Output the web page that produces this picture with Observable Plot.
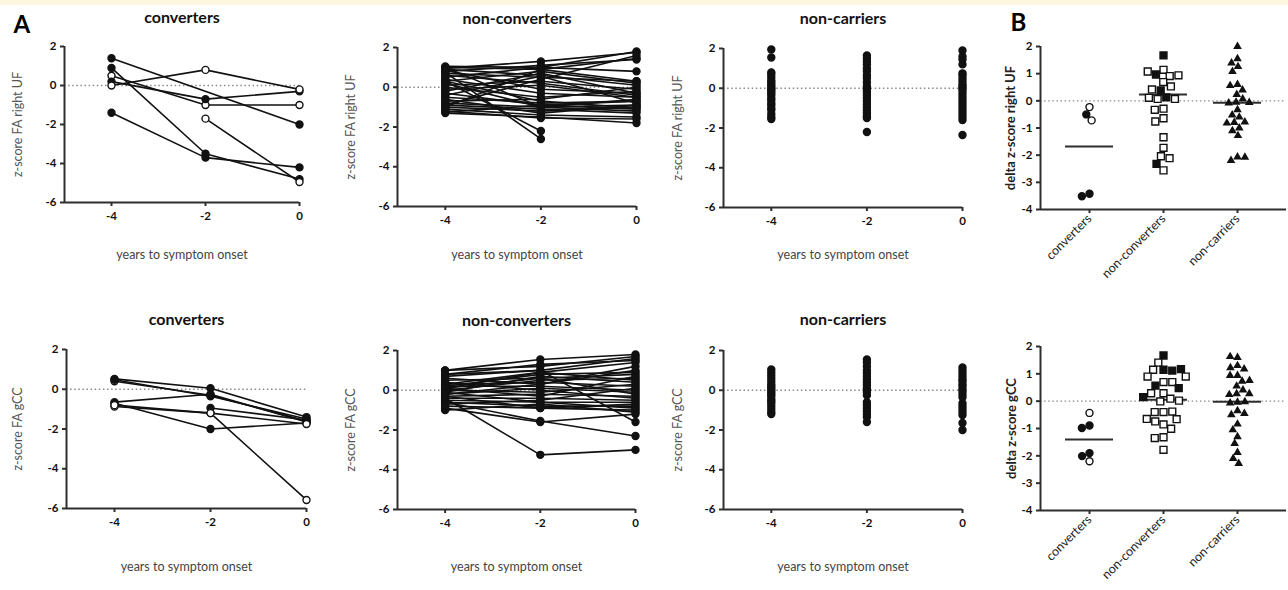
<!DOCTYPE html>
<html><head><meta charset="utf-8">
<script src="https://cdn.jsdelivr.net/npm/d3@7"></script>
<script src="https://cdn.jsdelivr.net/npm/@observablehq/plot@0.6"></script>
<style>
body{margin:0;background:#fff;}
#fig{position:relative;width:1288px;height:590px;overflow:hidden;background:#fff;}
#band{position:absolute;left:0;top:0;width:1288px;height:5px;background:#fdf7e2;}
</style></head><body><div id="fig"><div id="band"></div></div>
<script>
// ---------- data ----------
const years = [-4, -2, 0];
const yTicksA = [2, 0, -2, -4, -6];
const yTicksB = [2, 1, 0, -1, -2, -3, -4];
const groups = ["converters", "non-converters", "non-carriers"];

// z-score FA right UF, per subject at years -4, -2, 0 (null = no scan)
const convUF = [[1.4, null, -2.0], [0.9, -3.5, -4.8], [0.5, -1.0, -1.0], [0.2, -0.7, -0.3],
  [0.0, 0.8, -0.2], [-1.4, -3.7, -4.2], [null, -1.7, -4.95]];
const convUFHollow = [0, 0, 1, 0, 1, 0, 1];
const nonConvUF = [[1.05, 1.0, 1.8], [0.95, 1.3, 1.75], [1.0, 0.9, 1.45], [0.8, 1.1, 1.4], [-0.9, 0.4, 1.6],
  [0.5, 1.0, 0.8], [0.7, 0.5, 0.3], [0.3, 0.8, 0.2], [0.75, -2.6, null], [0.3, -2.2, null],
  [0.1, 0.3, -0.1], [-0.2, 0.7, -0.3], [0.4, -0.3, -0.5], [-0.5, -0.8, -0.7], [-0.8, -1.0, -0.9],
  [-1.0, -1.2, -1.0], [-1.1, -1.4, -1.5], [-1.3, -1.5, -1.8], [-1.2, -1.55, -1.6], [0.0, -0.5, -0.2],
  [-0.3, -0.9, -1.1], [0.2, -1.0, -0.6], [-0.7, -0.6, 0.0], [0.6, 0.2, -0.4], [-0.4, 0.55, -0.8],
  [1.0, -1.0, -1.2], [-0.9, -1.1, -1.3], [0.85, -0.1, -0.3], [-1.0, 0.9, 0.3], [-0.6, -1.3, -0.9],
  [0.3, -0.7, -1.05], [-0.1, 0.1, -0.5], [0.9, 0.6, 0.1], [-1.25, -0.9, -0.7]];
const nonCarUF_m4 = [1.95, 1.55, 0.8, 0.7, 0.55, 0.4, 0.3, 0.2, 0.1, 0.0, -0.05, -0.15, -0.25, -0.35, -0.5, -0.6, -0.75, -0.85, -1.0, -1.1, -1.3, -1.45, -1.55];
const nonCarUF_m2 = [1.65, 1.5, 1.35, 1.2, 1.0, 0.85, 0.65, 0.5, 0.3, 0.1, 0.0, -0.1, -0.2, -0.35, -0.5, -0.65, -0.8, -0.95, -1.1, -1.25, -1.4, -1.5, -2.2];
const nonCarUF_0 = [1.9, 1.6, 1.45, 1.2, 0.75, 0.65, 0.5, 0.35, 0.2, 0.1, 0.0, -0.1, -0.25, -0.4, -0.55, -0.7, -0.85, -1.0, -1.15, -1.3, -1.45, -1.6, -2.35];

// z-score FA gCC
const convGCC = [[0.52, 0.05, -1.4], [0.4, -0.3, -1.6], [0.48, -0.35, -1.5], [-0.65, -0.25, -1.65],
  [-0.87, -1.2, -5.57], [-0.7, -2.0, -1.7], [null, -0.94, -1.55], [-0.8, -1.2, -1.75]];
const convGCCHollow = [0, 1, 0, 0, 1, 0, 0, 1];
const nonConvGCC = [[1.0, 1.55, 1.8], [1.0, 1.2, 1.7], [0.8, 1.3, 1.5], [0.7, 1.0, 1.6], [0.3, 0.9, 1.4],
  [0.2, 0.8, 0.9], [0.1, 0.6, 0.8], [0.0, 0.5, 0.6], [-0.1, 0.7, 0.4], [0.3, 0.4, 0.2],
  [0.2, 0.2, 0.0], [-0.2, 0.1, -0.1], [0.0, -0.1, 0.3], [-0.3, -0.2, -0.3], [-0.4, -0.4, -0.5],
  [-0.5, -0.6, -0.6], [-0.6, -0.8, -0.8], [-0.8, -0.9, -1.0], [-1.0, -0.7, -1.1], [-0.4, -3.25, -3.0],
  [-0.6, -1.55, -2.3], [-0.9, -1.6, -1.2], [0.8, 1.0, -1.6], [0.1, -0.3, 0.7], [-0.2, 0.3, 1.0],
  [0.4, 0.0, -0.4], [-0.7, -0.5, 0.1], [0.5, 0.6, -0.2], [-0.3, -0.9, -0.7], [0.1, 0.9, 0.5],
  [-0.1, -0.6, -0.9], [0.6, 0.3, 1.2]];
const nonCarGCC_m4 = [1.05, 0.9, 0.75, 0.6, 0.45, 0.3, 0.2, 0.1, 0.0, -0.1, -0.2, -0.3, -0.45, -0.55, -0.65, -0.8, -0.95, -1.1, -1.2];
const nonCarGCC_m2 = [1.55, 1.4, 1.2, 1.0, 0.85, 0.7, 0.55, 0.4, 0.25, 0.1, 0.0, -0.1, -0.25, -0.6, -0.75, -0.9, -1.05, -1.2, -1.35, -1.6];
const nonCarGCC_0 = [1.15, 1.0, 0.85, 0.7, 0.55, 0.45, 0.3, 0.2, 0.05, -0.05, -0.2, -0.35, -0.65, -0.8, -0.95, -1.1, -1.25, -1.65, -2.0];

// delta z-scores (panel B)
const dUF_conv = [-0.23, -0.5, -0.72, -3.42, -3.51];
const dUF_convHollow = [1, 0, 1, 0, 0];
const dUF_nonConv = [1.67, 1.14, 0.97, 0.91, 0.94, 1.08, 0.69, 0.53, 0.38, 0.42, 0.13, 0.07, 0.07, 0.11, -0.29, -0.33, -0.64, -0.76, -1.34, -1.73, -2.04, -2.11, -2.32, -2.56];
const dUF_nonConvSolid = [1, 0, 1, 0, 0, 0, 0, 0, 1, 0, 1, 0, 0, 0, 0, 0, 0, 0, 0, 0, 0, 0, 1, 0];
const dUF_nonCar = [2.0, 1.55, 1.39, 1.26, 1.08, 0.6, 0.56, 0.4, 0.23, 0.07, -0.05, -0.08, -0.06, -0.33, -0.52, -0.6, -0.78, -0.8, -0.82, -1.0, -1.1, -1.28, -2.07, -2.2, -2.08];
const dUF_centre = [-1.68, 0.23, -0.07];

const dGCC_conv = [-0.43, -0.89, -0.98, -1.9, -2.01, -2.2];
const dGCC_convHollow = [1, 0, 0, 0, 0, 1];
const dGCC_nonConv = [1.67, 1.41, 1.15, 1.12, 1.15, 1.17, 0.9, 0.9, 0.7, 0.57, 0.7, 0.48, 0.29, 0.29, 0.09, -0.01, 0.02, 0.15, -0.4, -0.4, -0.38, -0.66, -0.85, -0.74, -0.65, -1.01, -1.32, -1.35, -1.78];
const dGCC_nonConvSolid = [1, 0, 1, 1, 0, 1, 0, 0, 0, 1, 0, 1, 0, 0, 0, 0, 0, 1, 0, 0, 0, 0, 0, 0, 0, 0, 0, 0, 0];
const dGCC_nonCar = [1.6, 1.63, 1.3, 1.22, 1.18, 0.94, 0.94, 0.73, 0.76, 0.55, 0.41, 0.27, 0.24, 0.27, -0.04, -0.07, -0.02, -0.35, -0.5, -0.45, -0.84, -1.05, -1.3, -1.55, -1.88, -2.1, -2.28];
const dGCC_centre = [-1.4, 0.05, -0.02];

// ---------- helpers ----------
const FONT = "Lato, 'Open Sans', sans-serif";
const INK = "#111";
const AX = "#2e2e2e";
const style = {fontFamily: FONT, background: "transparent", color: "#111", overflow: "visible"};
const fig = document.getElementById("fig");

function place(svg, box) {
  svg.style.position = "absolute";
  svg.style.left = box.x + "px";
  svg.style.top = box.y + "px";
  svg.style.maxWidth = "none";
  fig.appendChild(svg);
}
function margins(box, f) {
  return {width: box.w, height: box.h, marginLeft: f[0] - box.x, marginRight: box.x + box.w - f[1],
          marginTop: f[2] - box.y, marginBottom: box.y + box.h - f[3]};
}
function subjectRows(subjects, hollow) {
  const rows = [];
  subjects.forEach((vals, i) => vals.forEach((v, j) => {
    if (v != null) rows.push({id: i, t: years[j], v, hollow: hollow ? hollow[i] : 0});
  }));
  return rows;
}
function columnRows(cols) {
  const rows = [];
  cols.forEach((vals, j) => vals.forEach(v => rows.push({id: null, t: years[j], v, hollow: 0})));
  return rows;
}
const dotted = {stroke: "#8a8a8a", strokeWidth: 1.4, strokeDasharray: "1.5,2.6"};
const axisLine = {stroke: AX, strokeWidth: 2};
const tickOpts = {tickSize: 4, strokeWidth: 2, stroke: AX, fill: "#111", fontSize: 11.5, fontWeight: "bold", tickFormat: d => String(d), label: null};

function linePanel(p) {
  const marks = [Plot.ruleY([0], dotted)];
  if (p.lines) marks.push(Plot.line(p.rows, {x: "t", y: "v", z: "id", stroke: INK, strokeWidth: 1.6}));
  marks.push(
    Plot.dot(p.rows, {x: "t", y: "v", r: 3.5, fill: d => d.hollow ? "white" : INK, stroke: INK, strokeWidth: 1.4}),
    Plot.ruleX([-5], axisLine),
    Plot.ruleY([-6], axisLine),
    Plot.axisX({...tickOpts, ticks: years, tickPadding: 5}),
    Plot.axisY({...tickOpts, ticks: yTicksA, tickPadding: 4}),
    Plot.text([p.title], {frameAnchor: "top", dy: p.titleDy, lineAnchor: "bottom", textAnchor: "middle", fontSize: 16, fontWeight: "bold", fill: INK}),
    Plot.text(["years to symptom onset"], {frameAnchor: "bottom", dy: p.xlabDy, lineAnchor: "bottom", textAnchor: "middle", fontSize: 12.5, fill: "#444"}),
    Plot.text([p.ylabel], {frameAnchor: "left", dx: p.ylabDx, rotate: -90, textAnchor: "middle", lineAnchor: "middle", fontSize: 12.5, fill: "#555"})
  );
  if (p.letter) marks.push(Plot.text([p.letter], {frameAnchor: "top-left", dx: p.letterDx, dy: p.letterDy,
    textAnchor: "start", lineAnchor: "bottom", fontSize: 24, fontWeight: "bold", fill: "#000"}));
  place(Plot.plot({...margins(p.box, p.frame), x: {domain: [-5, 0]}, y: {domain: [-6, 2]}, style, marks}), p.box);
}

function deltaPanel(p) {
  const baseMarks = [
    Plot.ruleY([0], dotted),
    Plot.ruleY([-4], axisLine),
    Plot.ruleX([0], axisLine),
    Plot.axisY({...tickOpts, ticks: yTicksB, tickPadding: 4}),
    Plot.text([p.ylabel], {frameAnchor: "left", dx: p.ylabDx, rotate: -90, textAnchor: "middle", lineAnchor: "middle", fontSize: 13, fontWeight: "bold", fill: "#222"})
  ];
  if (p.letter) baseMarks.push(Plot.text([p.letter], {frameAnchor: "top-left", dx: p.letterDx, dy: p.letterDy,
    textAnchor: "start", lineAnchor: "bottom", fontSize: 24, fontWeight: "bold", fill: "#000"}));
  place(Plot.plot({...margins(p.box, p.frame), x: {domain: [0, 1], axis: null}, y: {domain: [-4, 2]}, style, marks: baseMarks}), p.box);

  const conv = p.conv.map((v, i) => ({g: groups[0], v, solid: !p.convHollow[i]}));
  const nonConv = p.nonConv.map((v, i) => ({g: groups[1], v, solid: !!p.nonConvSolid[i]}));
  const nonCar = p.nonCar.map(v => ({g: groups[2], v}));
  const centre = p.centre.map((v, i) => ({g: groups[i], v}));
  const inner = [p.frame[0] + 11, p.frame[1] - 12, p.frame[2], p.frame[3]];
  place(Plot.plot({...margins(p.box, inner), y: {domain: [-4, 2], axis: null},
    fx: {domain: groups, padding: 0, label: null}, style,
    marks: [
      Plot.axisFx({anchor: "bottom", tickSize: 4, tickPadding: 3, tickRotate: -45, strokeWidth: 2, stroke: AX, fill: "#222", fontSize: 12.5, label: null}),
      Plot.ruleY(centre, {fx: "g", y: "v", insetLeft: 13, insetRight: 13, stroke: AX, strokeWidth: 2}),
      Plot.dot(conv, Plot.dodgeX("middle", {fx: "g", y: "v", r: 3.5, padding: 2, fill: d => d.solid ? INK : "white", stroke: INK, strokeWidth: 1.4})),
      Plot.dot(nonConv, Plot.dodgeX("middle", {fx: "g", y: "v", symbol: "square", r: 3.9, padding: 2.2, fill: d => d.solid ? INK : "white", stroke: INK, strokeWidth: 1.4})),
      Plot.dot(nonCar, Plot.dodgeX("middle", {fx: "g", y: "v", symbol: "triangle", r: 3.2, padding: 3.6, fill: INK}))
    ]}), p.box);
}

// ---------- panels ----------
linePanel({box: {x: 0, y: 0, w: 330, h: 290}, frame: [64, 299, 46, 202], lines: true,
  rows: subjectRows(convUF, convUFHollow), title: "converters", ylabel: "z-score FA right UF",
  titleDy: -24, xlabDy: 56, ylabDx: -47, letter: "A", letterDx: -51, letterDy: -14});
linePanel({box: {x: 330, y: 0, w: 330, h: 290}, frame: [397, 636, 47, 206], lines: true,
  rows: subjectRows(nonConvUF), title: "non-converters", ylabel: "z-score FA right UF",
  titleDy: -24, xlabDy: 52, ylabDx: -47});
linePanel({box: {x: 660, y: 0, w: 320, h: 290}, frame: [723, 962, 48, 207], lines: false,
  rows: columnRows([nonCarUF_m4, nonCarUF_m2, nonCarUF_0]), title: "non-carriers", ylabel: "z-score FA right UF",
  titleDy: -25, xlabDy: 51, ylabDx: -46});
deltaPanel({box: {x: 980, y: 0, w: 308, h: 290}, frame: [1040, 1286, 46, 209],
  conv: dUF_conv, convHollow: dUF_convHollow, nonConv: dUF_nonConv, nonConvSolid: dUF_nonConvSolid,
  nonCar: dUF_nonCar, centre: dUF_centre, ylabel: "delta z-score right UF", ylabDx: -30,
  letter: "B", letterDx: -30, letterDy: -16});

linePanel({box: {x: 0, y: 290, w: 330, h: 300}, frame: [66, 306, 349, 508], lines: true,
  rows: subjectRows(convGCC, convGCCHollow), title: "converters", ylabel: "z-score FA gCC",
  titleDy: -25, xlabDy: 62, ylabDx: -49});
linePanel({box: {x: 330, y: 290, w: 330, h: 300}, frame: [397, 635, 350, 509], lines: true,
  rows: subjectRows(nonConvGCC), title: "non-converters", ylabel: "z-score FA gCC",
  titleDy: -25, xlabDy: 61, ylabDx: -47});
linePanel({box: {x: 660, y: 290, w: 320, h: 300}, frame: [723, 962, 350, 509], lines: false,
  rows: columnRows([nonCarGCC_m4, nonCarGCC_m2, nonCarGCC_0]), title: "non-carriers", ylabel: "z-score FA gCC",
  titleDy: -26, xlabDy: 61, ylabDx: -46});
deltaPanel({box: {x: 980, y: 290, w: 308, h: 300}, frame: [1040, 1286, 346, 510],
  conv: dGCC_conv, convHollow: dGCC_convHollow, nonConv: dGCC_nonConv, nonConvSolid: dGCC_nonConvSolid,
  nonCar: dGCC_nonCar, centre: dGCC_centre, ylabel: "delta z-score gCC", ylabDx: -29});
</script></body></html>
